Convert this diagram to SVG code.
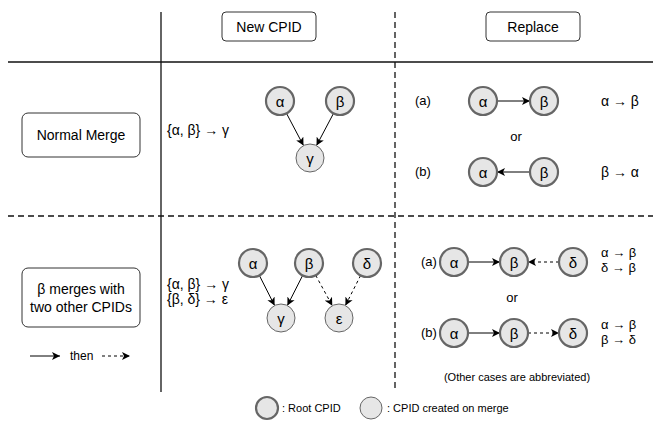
<svg xmlns="http://www.w3.org/2000/svg" width="653" height="421" viewBox="0 0 653 421">
<style>
text{font-family:"Liberation Sans",Arial,sans-serif;fill:#000}
.lbl{font-size:14px}
.ab{font-size:13px}
.nt{font-size:15px;text-anchor:middle;dominant-baseline:central}
.small{font-size:11px}
.box{fill:#fff;stroke:#333;stroke-width:1}
.root{fill:#e6e6e6;stroke:#666;stroke-width:2.2}
.made{fill:#e6e6e6;stroke:#666;stroke-width:1}
.grid{stroke:#111;stroke-width:1.3;fill:none}
.gdash{stroke:#111;stroke-width:1.3;fill:none;stroke-dasharray:6 4}
.e{stroke:#000;stroke-width:1;fill:none;marker-end:url(#arr)}
.ed{stroke:#000;stroke-width:1;fill:none;stroke-dasharray:3 3;marker-end:url(#arr)}
</style>
<defs>
<marker id="arr" markerUnits="userSpaceOnUse" markerWidth="10" markerHeight="9" refX="8" refY="4.5" orient="auto">
<path d="M0,0.5 L8,4.5 L0,8.5 L2,4.5 Z" fill="#000"/>
</marker>
</defs>
<rect width="653" height="421" fill="#fff"/>
<g id="grid">
<line class="grid" x1="8" y1="62" x2="653" y2="62"/>
<line class="grid" x1="161" y1="12" x2="161" y2="392"/>
<line class="gdash" x1="395" y1="12" x2="395" y2="392"/>
<line class="gdash" x1="8" y1="216" x2="653" y2="216"/>
</g>
<g id="hdr-new"><rect class="box" x="222" y="12" width="94" height="29" rx="4"/><text class="lbl" x="269" y="31.5" text-anchor="middle">New CPID</text></g>
<g id="hdr-replace"><rect class="box" x="486" y="12" width="94" height="29" rx="4"/><text class="lbl" x="533" y="31.5" text-anchor="middle">Replace</text></g>
<g id="row-normal"><rect class="box" x="22" y="113" width="118" height="44" rx="6"/><text x="81" y="140" font-size="14" text-anchor="middle">Normal Merge</text></g>
<g id="row-beta"><rect class="box" x="22" y="268" width="118" height="59" rx="6"/><text x="81" y="294" font-size="14" text-anchor="middle">β merges with</text><text x="81" y="312" font-size="14" text-anchor="middle">two other CPIDs</text></g>
<g id="legend-then">
<line class="e" x1="30" y1="356" x2="60" y2="356"/>
<text x="70" y="360" font-size="12">then</text>
<line class="ed" x1="102" y1="356" x2="130" y2="356"/>
</g>
<g id="rule1"><text class="lbl" x="167" y="135">{α, β} → γ</text></g>
<g id="rule2"><text class="lbl" x="167" y="289">{α, β} → γ</text><text class="lbl" x="167" y="304">{β, δ} → ε</text></g>

<g id="connectors">
<line class="e" x1="286.5" y1="113.4" x2="303.5" y2="145.6"/>
<line class="e" x1="333.5" y1="113.4" x2="316.5" y2="145.6"/>
<line class="e" x1="497" y1="101" x2="530" y2="101"/>
<line class="e" x1="530" y1="172" x2="497" y2="172"/>
<line class="e" x1="259.4" y1="275.5" x2="274.6" y2="305.5"/>
<line class="e" x1="302.6" y1="275.5" x2="287.4" y2="305.5"/>
<line class="ed" x1="315.7" y1="275.3" x2="332.3" y2="305.7"/>
<line class="ed" x1="360.6" y1="275.5" x2="345.4" y2="305.5"/>
<line class="e" x1="468" y1="262" x2="500" y2="262"/>
<line class="ed" x1="559" y1="262" x2="528" y2="262"/>
<line class="e" x1="468" y1="333" x2="500" y2="333"/>
<line class="ed" x1="528" y1="333" x2="559" y2="333"/>
</g>

<g id="n1-alpha"><circle class="root" cx="280" cy="101" r="14"/><text class="nt" x="280" y="101">α</text></g>
<g id="n1-beta"><circle class="root" cx="340" cy="101" r="14"/><text class="nt" x="340" y="101">β</text></g>
<g id="n1-gamma"><circle class="made" cx="310" cy="158" r="14"/><text class="nt" x="310" y="158">γ</text></g>

<g id="r1-labels">
<text class="ab" x="415" y="105">(a)</text>
<text class="ab" x="415" y="176">(b)</text>
<text class="lbl" x="601" y="106">α → β</text>
<text class="lbl" x="601" y="177">β → α</text>
<text class="ab" x="516" y="141" text-anchor="middle">or</text>
</g>
<g id="r1a-alpha"><circle class="root" cx="483" cy="101" r="14"/><text class="nt" x="483" y="101">α</text></g>
<g id="r1a-beta"><circle class="root" cx="544" cy="101" r="14"/><text class="nt" x="544" y="101">β</text></g>
<g id="r1b-alpha"><circle class="root" cx="483" cy="172" r="14"/><text class="nt" x="483" y="172">α</text></g>
<g id="r1b-beta"><circle class="root" cx="544" cy="172" r="14"/><text class="nt" x="544" y="172">β</text></g>

<g id="n2-alpha"><circle class="root" cx="253" cy="263" r="14"/><text class="nt" x="253" y="263">α</text></g>
<g id="n2-beta"><circle class="root" cx="309" cy="263" r="14"/><text class="nt" x="309" y="263">β</text></g>
<g id="n2-delta"><circle class="root" cx="367" cy="263" r="14"/><text class="nt" x="367" y="263">δ</text></g>
<g id="n2-gamma"><circle class="made" cx="281" cy="318" r="14"/><text class="nt" x="281" y="318">γ</text></g>
<g id="n2-eps"><circle class="made" cx="339" cy="318" r="14"/><text class="nt" x="339" y="318">ε</text></g>

<g id="r2-labels">
<text class="ab" x="421" y="266">(a)</text>
<text class="ab" x="421" y="337">(b)</text>
<text class="ab" x="601" y="257">α → β</text>
<text class="ab" x="601" y="272">δ → β</text>
<text class="ab" x="601" y="329">α → β</text>
<text class="ab" x="601" y="344">β → δ</text>
<text class="ab" x="512" y="302" text-anchor="middle">or</text>
<text class="small" x="517" y="381" text-anchor="middle">(Other cases are abbreviated)</text>
</g>
<g id="r2a-alpha"><circle class="root" cx="454" cy="262" r="14"/><text class="nt" x="454" y="262">α</text></g>
<g id="r2a-beta"><circle class="root" cx="514" cy="262" r="14"/><text class="nt" x="514" y="262">β</text></g>
<g id="r2a-delta"><circle class="root" cx="573" cy="262" r="14"/><text class="nt" x="573" y="262">δ</text></g>
<g id="r2b-alpha"><circle class="root" cx="454" cy="333" r="14"/><text class="nt" x="454" y="333">α</text></g>
<g id="r2b-beta"><circle class="root" cx="514" cy="333" r="14"/><text class="nt" x="514" y="333">β</text></g>
<g id="r2b-delta"><circle class="root" cx="573" cy="333" r="14"/><text class="nt" x="573" y="333">δ</text></g>

<g id="legend">
<circle class="root" cx="267" cy="408" r="11"/>
<text class="small" x="282" y="412">: Root CPID</text>
<circle class="made" cx="371" cy="408" r="11"/>
<text class="small" x="387" y="412">: CPID created on merge</text>
</g>
</svg>
